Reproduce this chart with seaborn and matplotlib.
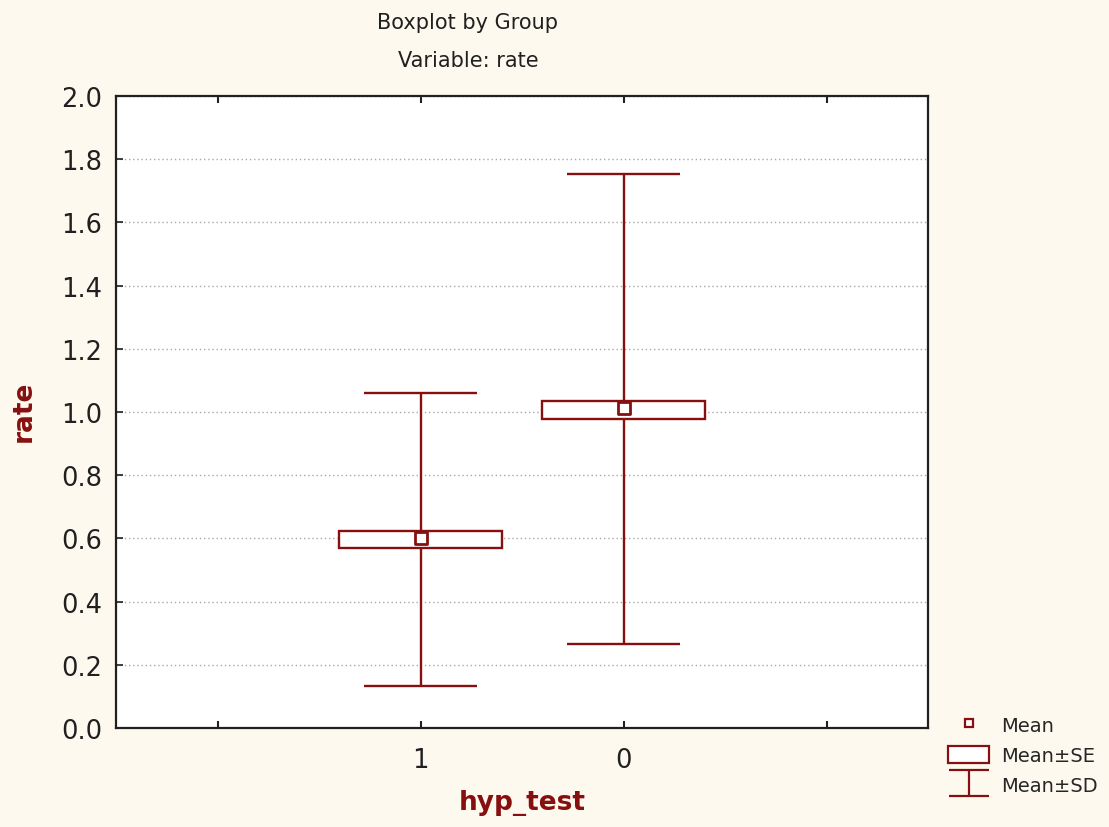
import numpy as np
import pandas as pd
import matplotlib
matplotlib.use("Agg")
import matplotlib.pyplot as plt
from matplotlib.lines import Line2D
from matplotlib.patches import Patch
from matplotlib.path import Path
import seaborn as sns

# summary values
groups = ["1", "0"]
means = [0.600, 1.013]
se_low = [0.569, 0.977]
se_high = [0.622, 1.036]
sd_low = [0.133, 0.265]
sd_high = [1.060, 1.752]

RED = "#861010"
BG = "#FDF9EF"

df = pd.DataFrame({"hyp_test": groups, "mean": means,
                   "se_low": se_low, "se_high": se_high,
                   "sd_low": sd_low, "sd_high": sd_high})
df["pos"] = np.arange(len(df))

sns.set_theme(style="white")
plt.rcParams["font.family"] = ["DejaVu Sans"]

fig = plt.figure(figsize=(11.09, 8.28), dpi=100, facecolor=BG)
ax = fig.add_axes([0.1046, 0.1196, 0.7322, 0.7633])
ax.set_facecolor("white")

# Mean +/- SD whiskers
cap = 0.28
ax.vlines(df["pos"], df["sd_low"], df["sd_high"], color=RED, lw=1.7, zorder=2)
ax.hlines(df["sd_low"], df["pos"] - cap, df["pos"] + cap, color=RED, lw=1.7, zorder=2)
ax.hlines(df["sd_high"], df["pos"] - cap, df["pos"] + cap, color=RED, lw=1.7, zorder=2)

# Mean +/- SE boxes
ax.bar(df["pos"], df["se_high"] - df["se_low"], bottom=df["se_low"], width=0.8,
       color="white", edgecolor=RED, linewidth=1.7, zorder=3)

# Means
sns.scatterplot(data=df, x="pos", y="mean", marker="s", s=70, color="white",
                edgecolor=RED, linewidth=2, zorder=4, ax=ax, legend=False)

ax.set_xlim(-1.5, 2.5)
ax.set_ylim(0, 2.0)
ax.set_xticks([-1, 0, 1, 2])
ax.set_xticklabels(["", "1", "0", ""])
ax.set_yticks(np.arange(0, 2.01, 0.2))
ax.set_yticklabels([f"{v:.1f}" for v in np.arange(0, 2.01, 0.2)])
ax.yaxis.grid(True, color="#A8A8A8", linestyle=(0, (1, 2)), lw=1)
ax.set_axisbelow(True)

ax.tick_params(axis="x", direction="in", length=5, width=1.5, top=True, bottom=True,
               labelsize=18.5, pad=14, colors="#202020")
ax.tick_params(axis="y", direction="in", length=5, width=1.2, left=True,
               labelsize=18.5, pad=10, colors="#202020")
for s in ax.spines.values():
    s.set_color("#202020")
    s.set_linewidth(1.6)

ax.set_xlabel("hyp_test", fontsize=19, fontweight="bold", color=RED)
ax.set_ylabel("rate", fontsize=19, fontweight="bold", color=RED)
ax.xaxis.set_label_coords(0.5, -0.097)
ax.yaxis.set_label_coords(-0.098, 0.503)

fig.text(0.422, 1 - 23 / 828, "Boxplot by Group", ha="center", va="center",
         fontsize=15, color="#202020")
fig.text(0.422, 1 - 61 / 828, "Variable: rate", ha="center", va="center",
         fontsize=15, color="#202020")

# legend
sd_marker = Path([(-1, 0.65), (1, 0.65), (0, 0.65), (0, -0.65), (-1, -0.65), (1, -0.65)],
                 [Path.MOVETO, Path.LINETO, Path.MOVETO, Path.LINETO, Path.MOVETO, Path.LINETO])
handles = [
    Line2D([], [], ls="none", marker="s", markersize=6, markerfacecolor="white",
           markeredgecolor=RED, markeredgewidth=1.6),
    Patch(facecolor="white", edgecolor=RED, linewidth=1.6),
    Line2D([], [], ls="none", marker=sd_marker, markersize=29, color=RED,
           markeredgewidth=1.6),
]
fig.legend(handles, ["Mean", "Mean±SE", "Mean±SD"], loc="lower left",
           bbox_to_anchor=(0.843, 0.022), frameon=False, fontsize=14,
           handlelength=2.1, handleheight=1.0, handletextpad=0.6,
           labelspacing=0.55, borderpad=0.2)

fig.savefig("out.png", dpi=100, facecolor=BG)
